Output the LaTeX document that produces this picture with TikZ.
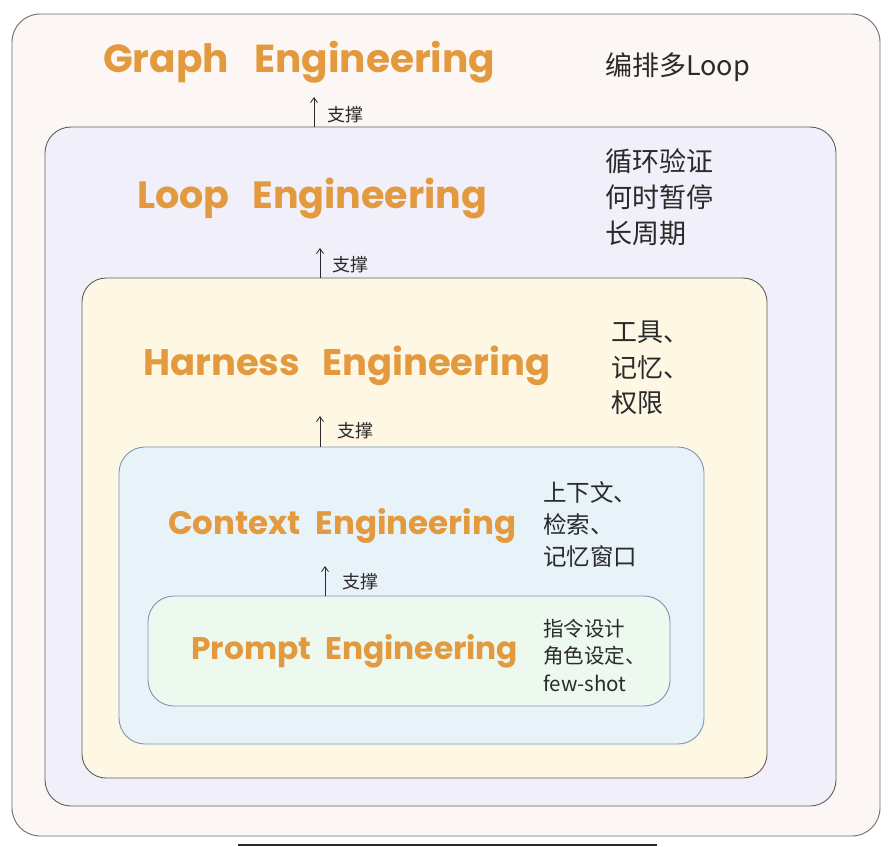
\documentclass[tikz,border=0pt]{standalone}
\usepackage{fontspec}
\usepackage{graphicx}
\setmainfont{Noto Sans CJK SC}
\newfontfamily\titlefont{Poppins}
\usetikzlibrary{arrows.meta}
\definecolor{ttl}{HTML}{E39A3F}
\definecolor{fgraph}{HTML}{FCF7F5}
\definecolor{floop}{HTML}{F1F0FA}
\definecolor{fharn}{HTML}{FDF7E4}
\definecolor{fctx}{HTML}{E8F2F9}
\definecolor{fprm}{HTML}{EDF8EE}
\definecolor{sgray}{HTML}{5E5E5E}
\definecolor{sblue}{HTML}{7896B6}
\definecolor{txt}{HTML}{2A2A2A}
\tikzset{
  layer/.style={draw=sgray, line width=0.9pt, rounded corners=26pt, inner sep=0pt},
  title/.style={text=ttl, inner sep=0pt, anchor=base west},
  note/.style={text=txt, inner sep=0pt, anchor=west, align=left},
  support/.style={draw=txt, line width=0.8pt, -{Straight Barb[length=5pt,width=7pt]}},
  suplabel/.style={text=txt, inner sep=0pt, anchor=west, font=\fontsize{18}{20}\selectfont},
}
\begin{document}
\begin{tikzpicture}[x=1pt,y=-1pt]
\useasboundingbox (0,0) rectangle (894,846);
\fill[white] (0,0) rectangle (894,846);
% layers
\node[layer, fill=fgraph, draw=sgray!90, rounded corners=28pt, minimum width=868pt, minimum height=822pt] (graph) at (446,425) {};
\node[layer, fill=floop, minimum width=791pt, minimum height=679pt] (loop) at (440.5,466.5) {};
\node[layer, fill=fharn, rounded corners=24pt, minimum width=685pt, minimum height=500pt] (harn) at (424.5,528) {};
\node[layer, fill=fctx, draw=sblue, minimum width=585pt, minimum height=297pt] (ctx) at (411.5,595.5) {};
\node[layer, fill=fprm, draw=sblue, minimum width=522pt, minimum height=110pt] (prm) at (409,651) {};
% titles
\node[title] (tg) at (103,72) {\resizebox{392pt}{!}{\titlefont\bfseries Graph\hspace{0.65em}Engineering}};
\node[title] (tl) at (137,208) {\resizebox{350pt}{!}{\titlefont\bfseries Loop\hspace{0.6em}Engineering}};
\node[title] (th) at (143,375) {\resizebox{407pt}{!}{\titlefont\bfseries Harness\hspace{0.6em}Engineering}};
\node[title] (tc) at (168,534) {\resizebox{348pt}{!}{\titlefont\bfseries Context\hspace{0.45em}Engineering}};
\node[title] (tp) at (191,659) {\resizebox{327pt}{!}{\titlefont\bfseries Prompt\hspace{0.45em}Engineering}};
% notes
\node[note, font=\fontsize{27}{36}\selectfont] (ng) at (605,67) {编排多Loop};
\node[note, font=\fontsize{27}{36}\selectfont] (nl) at (605,197) {循环验证\\何时暂停\\长周期};
\node[note, font=\fontsize{26}{35.5}\selectfont] (nh) at (611,368) {工具、\\记忆、\\权限};
\node[note, font=\fontsize{23.5}{32}\selectfont] (nc) at (543,525) {上下文、\\检索、\\记忆窗口};
\node[note, font=\fontsize{20.5}{27.5}\selectfont] (np) at (543,655) {指令设计\\角色设定、\\few-shot};
% support arrows
\coordinate (a1) at (314,97);
\coordinate (a2) at (320,248);
\coordinate (a3) at (320,416);
\coordinate (a4) at (325,566);
\draw[support] (a1 |- loop.north) -- (a1);
\draw[support] (a2 |- harn.north) -- (a2);
\draw[support] (a3 |- ctx.north) -- (a3);
\draw[support] (a4 |- prm.north) -- (a4);
\node[suplabel] (s1) at (327,115) {支撑};
\node[suplabel] (s2) at (332,265) {支撑};
\node[suplabel] (s3) at (337,431) {支撑};
\node[suplabel] (s4) at (342,582) {支撑};
% bottom edge bar
\coordinate (b1) at (238,845);
\coordinate (b2) at (657,845);
\draw[line width=2pt, draw=txt] (b1) -- (b2);
\end{tikzpicture}
\end{document}
